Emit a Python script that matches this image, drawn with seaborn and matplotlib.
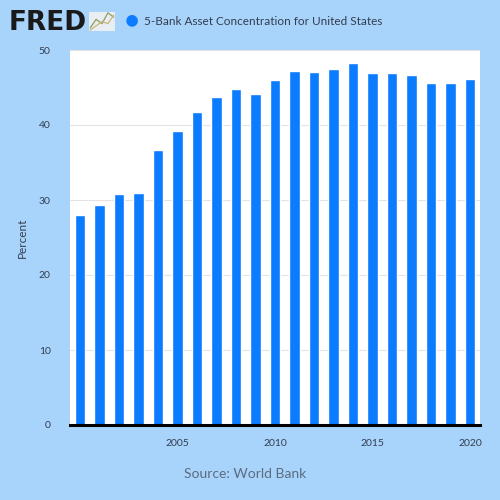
import numpy as np
import pandas as pd
import matplotlib
matplotlib.use("Agg")
import matplotlib.pyplot as plt
import seaborn as sns

years = list(range(2000, 2021))
concentration = [28.0, 29.4, 30.8, 31.0, 36.7, 39.2, 41.7, 43.8, 44.8, 44.2,
                 46.0, 47.2, 47.1, 47.5, 48.3, 47.0, 47.0, 46.7, 45.6, 45.6, 46.2]
y_ticks = [0, 10, 20, 30, 40, 50]
x_ticks = [2000, 2005, 2010, 2015, 2020]
x_labels = ["", "2005", "2010", "2015", "2020"]

BG = "#a8d4fc"
BAR = "#0b7bff"
TXT = "#333d4f"

sns.set_style("white")
plt.rcParams['font.family'] = ['Lato', 'DejaVu Sans']

df = pd.DataFrame({"year": years, "value": concentration})

fig = plt.figure(figsize=(5, 5), dpi=100, facecolor=BG)
ax = fig.add_axes([0.14, 0.15, 0.82, 0.75])
ax.set_facecolor("white")

sns.barplot(data=df, x="year", y="value", color=BAR, saturation=1,
            width=0.54, native_scale=True, ax=ax, zorder=3)

ax.set_xlim(1999.49, 2020.51)
ax.set_ylim(0, 50)
ax.set_yticks(y_ticks)
ax.set_xticks(x_ticks)
ax.set_xticklabels(x_labels)
ax.grid(axis="y", color="#e3e3e3", linewidth=0.8, zorder=0)
ax.set_axisbelow(True)

for s in ["top", "right", "left"]:
    ax.spines[s].set_visible(False)
ax.spines["bottom"].set_color("black")
ax.spines["bottom"].set_linewidth(2.2)
ax.spines["bottom"].set_zorder(5)

ax.tick_params(axis="y", length=0, pad=14, labelsize=7.5, labelcolor=TXT)
ax.tick_params(axis="x", length=6, width=0.8, color="#c8dcef", direction="out",
               pad=4, labelsize=7.5, labelcolor=TXT)
ax.set_xlabel("")
ax.set_ylabel("Percent", fontsize=8.5, color=TXT, labelpad=8)

# header: FRED logo + legend
fig.text(0.018, 0.955, "FRED", fontsize=19, fontweight="black", color="#1a1a1a",
         va="center", ha="left", family=["DejaVu Sans"])
icon = fig.add_axes([0.178, 0.938, 0.052, 0.038])
icon.set_facecolor("#e9eef2")
icon.plot([0, 1, 2, 3, 4], [0.2, 0.6, 0.4, 0.9, 0.7], color="#8aa060", lw=0.9)
icon.plot([0, 1, 2, 3, 4], [0.1, 0.3, 0.5, 0.4, 0.8], color="#c9b77a", lw=0.9)
icon.set_xticks([])
icon.set_yticks([])
for s in icon.spines.values():
    s.set_visible(False)

fig.text(0.263, 0.958, "\u25cf", fontsize=17, color=BAR, va="center", ha="center")
fig.text(0.287, 0.957, "5-Bank Asset Concentration for United States",
         fontsize=8.5, color=TXT, va="center", ha="left")

fig.text(0.49, 0.052, "Source: World Bank", fontsize=10, color="#5b6b80",
         ha="center", va="center")

fig.savefig("out.png", dpi=100, facecolor=BG)
